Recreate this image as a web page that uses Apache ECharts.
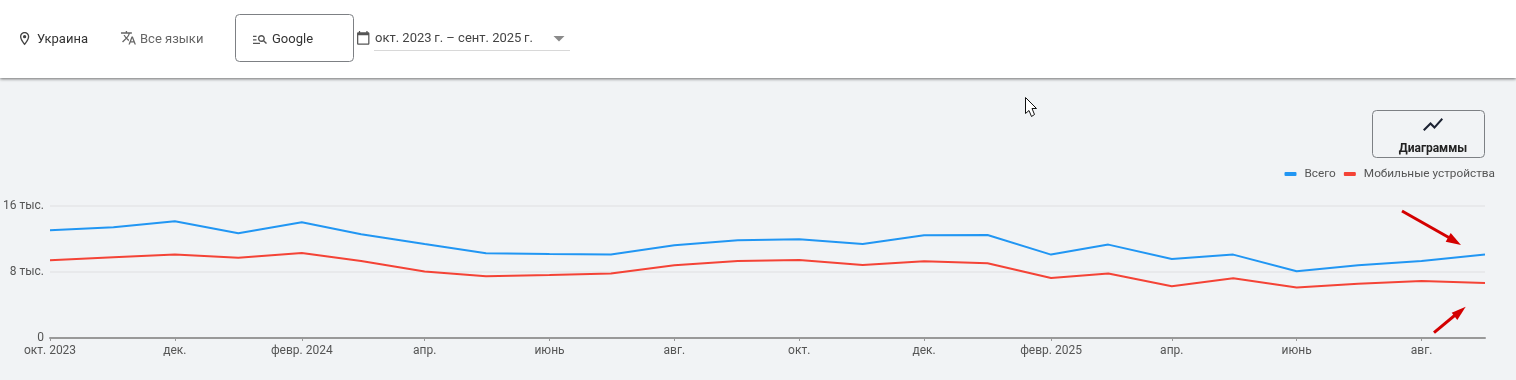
<!DOCTYPE html>
<html>
<head>
<meta charset="utf-8">
<title>Ukraine Google trend</title>
<script src="https://cdn.jsdelivr.net/npm/echarts@6/dist/echarts.min.js"></script>
<style>
  html, body { margin: 0; padding: 0; background: #f1f3f5; }
  #main { width: 1516px; height: 380px; }
</style>
</head>
<body>
<div id="main"></div>
<script>
const months = [
  '2023-10-01', '2023-11-01', '2023-12-01', '2024-01-01', '2024-02-01', '2024-03-01',
  '2024-04-01', '2024-05-01', '2024-06-01', '2024-07-01', '2024-08-01', '2024-09-01',
  '2024-10-01', '2024-11-01', '2024-12-01', '2025-01-01', '2025-02-01', '2025-03-01',
  '2025-04-01', '2025-05-01', '2025-06-01', '2025-07-01', '2025-08-01', '2025-09-01',
]
const totalValues = [
  13050, 13420, 14140, 12690, 14020, 12570, 11390, 10270, 10180, 10110, 11240, 11840,
  11960, 11390, 12450, 12480, 10110, 11320, 9580, 10110, 8080, 8810, 9330, 10110,
]
const mobileValues = [
  9420, 9780, 10110, 9740, 10300, 9330, 8050, 7480, 7640, 7810, 8810, 9330,
  9450, 8850, 9300, 9050, 7270, 7810, 6270, 7240, 6110, 6590, 6910, 6670,
]
const xTickDates = [
  '2023-10-01', '2023-12-01', '2024-02-01', '2024-04-01', '2024-06-01', '2024-08-01',
  '2024-10-01', '2024-12-01', '2025-02-01', '2025-04-01', '2025-06-01', '2025-08-01',
]
const xTickLabels = [
  'окт. 2023', 'дек.', 'февр. 2024', 'апр.', 'июнь', 'авг.',
  'окт.', 'дек.', 'февр. 2025', 'апр.', 'июнь', 'авг.',
]
const yTickLabels = { 0: '0', 8000: '8 тыс.', 16000: '16 тыс.' }

const FONT = 'Roboto'
// даты в timestamp, месяцы разной длины
const toTime = d => echarts.time.parse(d).getTime()
const monthTimes = months.map(toTime)
const xTickTimes = xTickDates.map(toTime)

// material icons
const ICONS = {
  iconPin: 'M12 2C8.13 2 5 5.13 5 9c0 5.25 7 13 7 13s7-7.75 7-13c0-3.87-3.13-7-7-7zM7 9c0-2.76 2.24-5 5-5s5 2.24 5 5c0 2.88-2.88 7.19-5 9.88C9.92 16.21 7 11.85 7 9zM12 6.5a2.5 2.5 0 1 0 0 5 2.5 2.5 0 0 0 0-5z',
  iconLang: 'M12.87 15.07l-2.54-2.51.03-.03c1.74-1.94 2.98-4.17 3.71-6.53H17V4h-7V2H8v2H1v1.99h11.17C11.5 7.92 10.44 9.75 9 11.35 8.07 10.32 7.3 9.19 6.69 8h-2c.73 1.63 1.73 3.17 2.98 4.56l-5.09 5.02L4 19l5-5 3.11 3.11.76-2.04zM18.5 10h-2L12 22h2l1.12-3h4.75L21 22h2l-4.5-12zm-2.62 7l1.62-4.33L19.12 17h-3.24z',
  iconSearch: 'M7 9H2V7h5v2zm0 3H2v2h5v-2zm13.59 7-3.83-3.83c-.8.52-1.74.83-2.76.83-2.76 0-5-2.24-5-5s2.24-5 5-5 5 2.24 5 5c0 1.02-.31 1.96-.83 2.75L22 17.59 20.59 19zM17 11c0-1.65-1.35-3-3-3s-3 1.35-3 3 1.35 3 3 3 3-1.35 3-3zM2 19h10v-2H2v2z',
  iconCal: 'M20 3h-1V1h-2v2H7V1H5v2H4c-1.1 0-2 .9-2 2v16c0 1.1.9 2 2 2h16c1.1 0 2-.9 2-2V5c0-1.1-.9-2-2-2zm0 18H4V8h16v13z',
  iconChart: 'M3.5 18.49l6-6.01 4 4L22 6.92l-1.41-1.41-7.09 7.97-4-4L2 16.99z',
}
Object.keys(ICONS).forEach((name) => {
  echarts.graphic.registerShape(name, echarts.graphic.extendPath(ICONS[name], {}))
})

function icon(name, x, y, scale, fill) {
  return { type: name, z: 12, x, y, scaleX: scale, scaleY: scale, style: { fill } }
}
function label(text, x, y, fill, extra = {}) {
  return {
    type: 'text', z: 12, x, y,
    style: { text, fill, font: `${extra.weight || 400} ${extra.size || 13}px ${FONT}`, textAlign: extra.align || 'left', textVerticalAlign: 'middle' },
  }
}
function box(x, y, width, height) {
  return { type: 'rect', z: 12, shape: { x, y, width, height, r: 4 }, style: { fill: 'transparent', stroke: '#7d8084', lineWidth: 1 } }
}
function arrow(shaft, head) {
  return [
    { type: 'polyline', z: 12, shape: { points: shaft }, style: { stroke: '#d40000', lineWidth: 3, fill: null } },
    { type: 'polygon', z: 12, shape: { points: head }, style: { fill: '#d40000' } },
  ]
}

const chart = echarts.init(document.getElementById('main'), null, { renderer: 'canvas' })
chart.setOption({
  animation: false,
  backgroundColor: '#f1f3f5',
  textStyle: { fontFamily: FONT },
  grid: { left: 50, right: 31, top: 206, bottom: 42 },
  legend: {
    right: 16,
    top: 163,
    itemWidth: 12,
    itemHeight: 4,
    itemGap: 8,
    icon: 'roundRect',
    textStyle: { color: '#555', fontSize: 11.8, fontFamily: FONT, padding: [0, 0, 0, 3] },
    data: ['Всего', 'Мобильные устройства'],
  },
  xAxis: {
    type: 'value',
    scale: true,
    min: monthTimes[0],
    max: monthTimes[monthTimes.length - 1],
    axisLine: { onZero: false, lineStyle: { color: '#999', width: 2 } },
    axisTick: { show: true, length: 3, lineStyle: { color: '#999' }, customValues: xTickTimes },
    splitLine: { show: false },
    axisLabel: {
      color: '#555',
      fontSize: 12,
      margin: 7,
      hideOverlap: false,
      customValues: xTickTimes,
      formatter: value => xTickLabels[xTickTimes.indexOf(value)] ?? '',
    },
  },
  yAxis: {
    type: 'value',
    min: 0,
    max: 16000,
    interval: 8000,
    axisLine: { show: false },
    axisTick: { show: false },
    axisLabel: { color: '#555', fontSize: 12, margin: 6, padding: [2, 0, 0, 0], formatter: value => yTickLabels[value] },
    splitLine: { lineStyle: { color: '#e8e9eb', width: 2 } },
  },
  series: [
    {
      name: 'Всего',
      type: 'line',
      showSymbol: false,
      itemStyle: { color: '#2196f3' },
      lineStyle: { color: '#2196f3', width: 2 },
      data: monthTimes.map((t, i) => [t, totalValues[i]]),
    },
    {
      name: 'Мобильные устройства',
      type: 'line',
      showSymbol: false,
      itemStyle: { color: '#f44336' },
      lineStyle: { color: '#f44336', width: 2 },
      data: monthTimes.map((t, i) => [t, mobileValues[i]]),
    },
  ],
  graphic: [
    // шапка с фильтрами
    {
      type: 'rect', z: 11, shape: { x: 0, y: 0, width: 1516, height: 78 },
      style: { fill: '#fff', shadowBlur: 3, shadowColor: 'rgba(0,0,0,0.55)', shadowOffsetY: 1 },
    },
    icon('iconPin', 16.7, 30.7, 0.66, '#444'),
    label('Украина', 37, 40, '#333'),
    icon('iconLang', 120.3, 29.6, 0.68, '#666'),
    label('Все языки', 140, 40, '#666'),
    box(235.5, 14.5, 118, 47),
    icon('iconSearch', 251.6, 30.8, 0.7, '#555'),
    label('Google', 272, 40, '#333'),
    icon('iconCal', 355.8, 30.4, 0.62, '#555'),
    label('окт. 2023\u2009г. – сент. 2025\u2009г.', 375, 39, '#444'),
    { type: 'polygon', z: 12, shape: { points: [[553.5, 36], [564.5, 36], [559, 41.5]] }, style: { fill: '#8a8a8a' } },
    { type: 'rect', z: 12, shape: { x: 374, y: 50, width: 196, height: 1 }, style: { fill: '#d8d8d8' } },
    // кнопка диаграмм
    box(1372.5, 110.5, 112, 47),
    icon('iconChart', 1421, 112.5, 1, '#1c2333'),
    label('Диаграммы', 1433, 149, '#222', { weight: 700, size: 12, align: 'center' }),
    // курсор
    {
      type: 'polygon', z: 12,
      shape: { points: [[1025.5, 97.5], [1036.5, 108.5], [1032, 108.5], [1034.5, 114.5], [1031.5, 116.5], [1029, 110.5], [1025.5, 113.5]] },
      style: { fill: '#fff', stroke: '#111', lineWidth: 1 },
    },
    // стрелки
    ...arrow([[1402, 211], [1455, 241]], [[1461, 245], [1450.7, 233], [1445.7, 241.7]]),
    ...arrow([[1434, 332.7], [1460, 311]], [[1465.7, 306.7], [1451.7, 312.7], [1457.3, 320]]),
  ],
})
</script>
</body>
</html>
